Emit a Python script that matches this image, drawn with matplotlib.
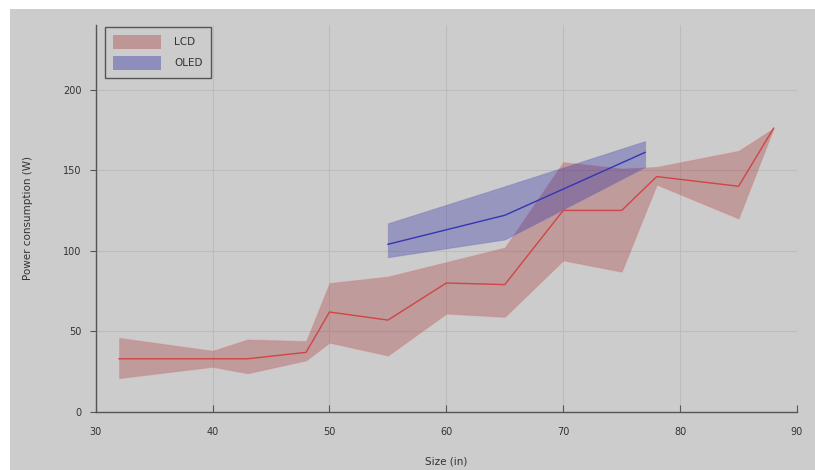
import matplotlib
matplotlib.use("Agg")
import matplotlib.pyplot as plt
from matplotlib.patches import Rectangle, Patch

# Data
lcd_x = [32, 40, 43, 48, 50, 55, 60, 65, 70, 75, 78, 85, 88]
lcd_mid = [33, 33, 33, 37, 62, 57, 80, 79, 125, 125, 146, 140, 176]
lcd_upper = [46, 38, 45, 44, 80, 84, 93, 102, 155, 151, 152, 162, 176]
lcd_lower = [21, 28, 24, 32, 43, 35, 61, 59, 94, 87, 141, 120, 176]

oled_x = [55, 65, 77]
oled_mid = [104, 122, 161]
oled_upper = [117, 140, 168]
oled_lower = [96, 107, 152]

x_ticks = [30, 40, 50, 60, 70, 80, 90]
y_ticks = [0, 50, 100, 150, 200]

BG = "#cccccc"
fig = plt.figure(figsize=(8.15, 4.70), dpi=100)
fig.patch.set_facecolor(BG)
# white margins at top and left
fig.patches.append(Rectangle((0, 0), 10/815, 1, transform=fig.transFigure,
                             facecolor="white", edgecolor="none", zorder=-1))
fig.patches.append(Rectangle((0, 1 - 9/470), 1, 9/470, transform=fig.transFigure,
                             facecolor="white", edgecolor="none", zorder=-1))

ax = fig.add_axes([95.7/815, 58/470, (797-95.7)/815, (412-25)/470])
ax.set_facecolor(BG)

ax.fill_between(lcd_x, lcd_lower, lcd_upper, color="#a52a2a", alpha=0.3,
                linewidth=0.8, edgecolor=(0.85, 0.45, 0.45, 0.35), zorder=2)
ax.plot(lcd_x, lcd_mid, color="#d04545", lw=1.0, zorder=3)
ax.fill_between(oled_x, oled_lower, oled_upper, color="#2a2aa5", alpha=0.33,
                linewidth=0.8, edgecolor=(0.4, 0.4, 0.75, 0.4), zorder=2)
ax.plot(oled_x, oled_mid, color="#3535b5", lw=1.0, zorder=3)

ax.set_xlim(30, 90)
ax.set_ylim(0, 240)
ax.set_xticks(x_ticks)
ax.set_yticks(y_ticks)
ax.grid(True, color="#bcbcbc", lw=0.8, zorder=0)
ax.set_axisbelow(True)
for s in ["top", "right"]:
    ax.spines[s].set_visible(False)
for s in ["left", "bottom"]:
    ax.spines[s].set_color("#555555")
    ax.spines[s].set_linewidth(1.0)
ax.tick_params(axis="x", direction="in", length=5, color="#555555",
               labelsize=7, labelcolor="#333333", pad=11)
ax.tick_params(axis="y", direction="out", length=4, color="#555555",
               labelsize=7, labelcolor="#333333", pad=6)

ax.set_xlabel("Size (in)", fontsize=7.5, color="#333333", labelpad=14)
ax.set_ylabel("Power consumption (W)", fontsize=7.5, color="#333333", labelpad=22)

handles = [Patch(facecolor="#a52a2a", alpha=0.33, edgecolor="none"),
           Patch(facecolor="#2a2aa5", alpha=0.38, edgecolor="none")]
leg = fig.legend(handles, ["LCD", "OLED"], loc="upper left",
                 bbox_to_anchor=(105/815, 1 - 27/470), fontsize=7.5,
                 frameon=True, fancybox=False, handlelength=4.6, handleheight=1.7,
                 borderpad=0.75, labelspacing=0.65, handletextpad=1.3,
                 borderaxespad=0)
frame = leg.get_frame()
frame.set_facecolor(BG)
frame.set_edgecolor("#555555")
frame.set_linewidth(1.0)
frame.set_alpha(1)
for t in leg.get_texts():
    t.set_color("#333333")

fig.savefig("out.png", dpi=100, facecolor=fig.get_facecolor())
